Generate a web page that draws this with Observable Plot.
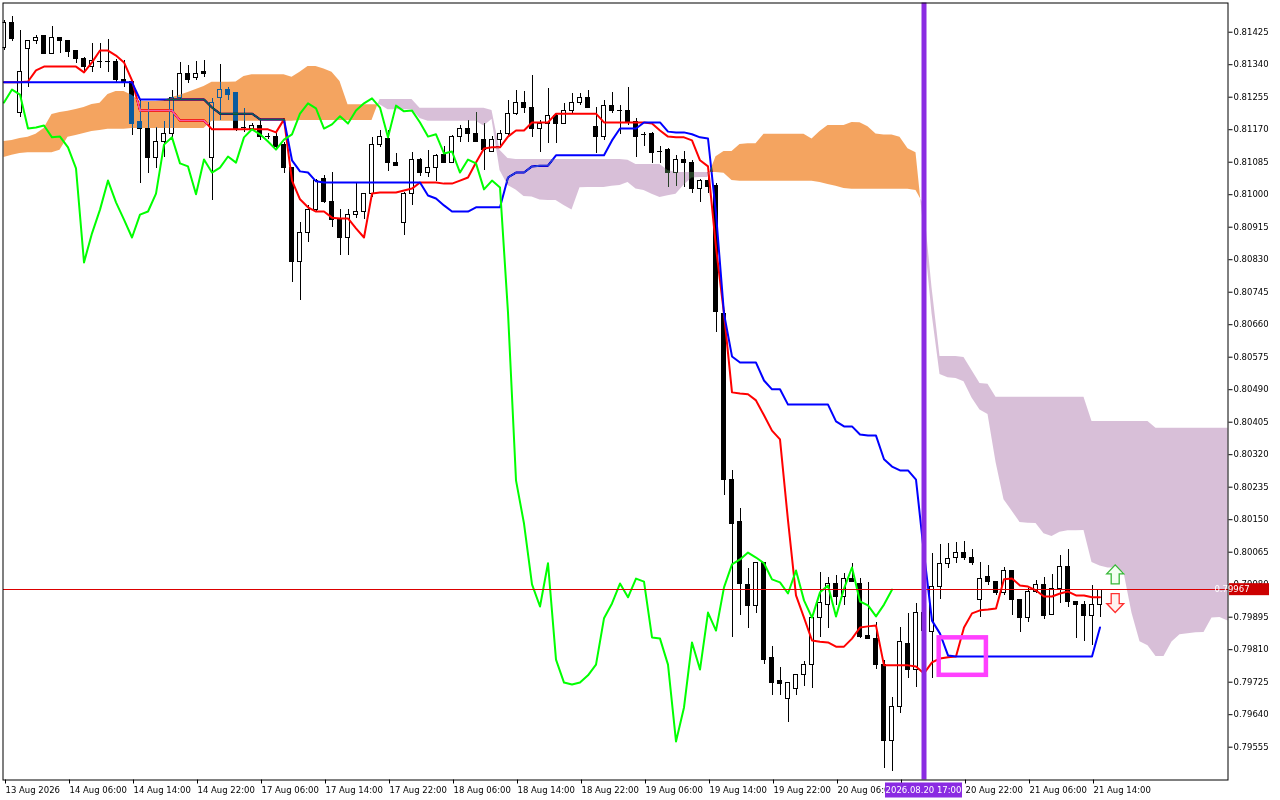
<!DOCTYPE html>
<html><head><meta charset="utf-8">
<script src="https://cdn.jsdelivr.net/npm/d3@7"></script>
<script src="https://cdn.jsdelivr.net/npm/@observablehq/plot@0.6"></script>
<style>html,body{margin:0;padding:0;background:#fff;}#chart svg{display:block;}</style>
</head><body><div id="chart"></div>
<script>
// Hourly bars, index 0 = 13 Aug 2026 22:00
const open = [
0.81385,0.81450,0.81215,0.81380,0.81403,0.81414,0.81369,0.81411,0.81403,0.81375,
0.81354,0.81333,0.81348,0.81348,0.81348,0.81299,0.81294,0.81189,0.81171,0.81095,
0.81139,0.81160,0.81252,0.81317,0.81304,0.81322,0.81095,0.81254,0.81275,0.81265,
0.81176,0.81173,0.81181,0.81152,0.81152,0.81131,0.81071,0.80823,0.80899,0.80959,
0.81040,0.80980,0.80935,0.80888,0.80948,0.80956,0.81003,0.81131,0.81147,0.81082,
0.80925,0.81001,0.81092,0.81058,0.81071,0.81103,0.81084,0.81152,0.81173,0.81160,
0.81144,0.81113,0.81144,0.81158,0.81212,0.81239,0.81226,0.81173,0.81184,0.81205,
0.81186,0.81220,0.81239,0.81252,0.81176,0.81150,0.81233,0.81220,0.81220,0.81189,
0.81158,0.81158,0.81113,0.81116,0.81058,0.81092,0.81084,0.81014,0.81037,0.81022,
0.80689,0.80253,0.80143,0.79978,0.79923,0.80036,0.79787,0.79727,0.79682,0.79706,
0.79743,0.79771,0.79894,0.79928,0.79983,0.79947,0.79996,0.79983,0.79845,0.79839,
0.79771,0.79570,0.79659,0.79824,0.79756,0.79907,0.79855,0.79973,0.80033,0.80049,
0.80064,0.80051,0.79941,0.79999,0.79988,0.79957,0.80017,0.79939,0.79894,0.79960,
0.79978,0.79900,0.79970,0.80025,0.79936,0.79926,0.79897,0.79928];
const high = [
0.81456,0.81466,0.81430,0.81403,0.81416,0.81416,0.81440,0.81411,0.81403,0.81377,
0.81359,0.81396,0.81396,0.81406,0.81354,0.81351,0.81299,0.81246,0.81241,0.81176,
0.81192,0.81273,0.81346,0.81338,0.81348,0.81351,0.81252,0.81341,0.81280,0.81265,
0.81226,0.81186,0.81194,0.81160,0.81160,0.81137,0.81071,0.80927,0.80972,0.81040,
0.81050,0.81058,0.80961,0.80961,0.81029,0.81003,0.81150,0.81168,0.81168,0.81108,
0.81006,0.81110,0.81095,0.81116,0.81105,0.81126,0.81155,0.81181,0.81194,0.81215,
0.81186,0.81152,0.81168,0.81246,0.81273,0.81270,0.81312,0.81194,0.81278,0.81212,
0.81239,0.81265,0.81265,0.81273,0.81228,0.81246,0.81267,0.81233,0.81280,0.81199,
0.81163,0.81163,0.81126,0.81121,0.81103,0.81113,0.81090,0.81040,0.81050,0.81029,
0.80697,0.80279,0.80179,0.80022,0.80038,0.80036,0.79818,0.79763,0.79724,0.79743,
0.79779,0.79892,0.80012,0.79999,0.80004,0.80009,0.80036,0.79996,0.79986,0.79881,
0.79782,0.79685,0.79868,0.79905,0.79931,0.79978,0.80062,0.80085,0.80088,0.80090,
0.80093,0.80072,0.80038,0.80030,0.79988,0.80025,0.80017,0.79939,0.79970,0.79991,
0.79999,0.80007,0.80056,0.80072,0.79936,0.79936,0.79978,0.79967];
const low = [
0.81377,0.81401,0.81202,0.81280,0.81393,0.81367,0.81367,0.81369,0.81359,0.81343,
0.81317,0.81320,0.81330,0.81320,0.81294,0.81280,0.81155,0.81029,0.81056,0.81069,
0.81097,0.81150,0.81246,0.81291,0.81299,0.81307,0.80985,0.81194,0.81246,0.81165,
0.81163,0.81168,0.81142,0.81144,0.81116,0.81056,0.80770,0.80723,0.80875,0.80954,
0.80977,0.80914,0.80841,0.80841,0.80938,0.80935,0.80993,0.81124,0.81061,0.81074,
0.80893,0.80972,0.81048,0.81045,0.81035,0.81082,0.81084,0.81137,0.81137,0.81139,
0.81063,0.81110,0.81124,0.81155,0.81207,0.81212,0.81150,0.81110,0.81134,0.81134,
0.81184,0.81212,0.81233,0.81226,0.81108,0.81142,0.81212,0.81158,0.81181,0.81097,
0.81126,0.81082,0.81082,0.81019,0.81022,0.81019,0.81003,0.80980,0.81003,0.80640,
0.80213,0.79842,0.79900,0.79866,0.79905,0.79771,0.79690,0.79690,0.79620,0.79690,
0.79714,0.79709,0.79842,0.79866,0.79926,0.79926,0.79986,0.79839,0.79839,0.79758,
0.79499,0.79492,0.79643,0.79735,0.79711,0.79834,0.79735,0.79941,0.80022,0.80036,
0.80043,0.80030,0.79894,0.79978,0.79952,0.79952,0.79900,0.79855,0.79881,0.79957,
0.79889,0.79900,0.79931,0.79920,0.79839,0.79831,0.79821,0.79894];
const close = [
0.81448,0.81406,0.81322,0.81403,0.81411,0.81369,0.81411,0.81401,0.81372,0.81354,
0.81333,0.81351,0.81348,0.81348,0.81299,0.81296,0.81186,0.81171,0.81095,0.81139,
0.81160,0.81252,0.81317,0.81301,0.81317,0.81317,0.81241,0.81275,0.81262,0.81173,
0.81176,0.81181,0.81150,0.81152,0.81124,0.81069,0.80823,0.80899,0.80961,0.81037,
0.80980,0.80935,0.80888,0.80948,0.80956,0.81003,0.81131,0.81150,0.81082,0.81074,
0.81001,0.81092,0.81058,0.81071,0.81100,0.81084,0.81150,0.81171,0.81158,0.81139,
0.81118,0.81144,0.81158,0.81212,0.81239,0.81226,0.81173,0.81184,0.81205,0.81186,
0.81220,0.81239,0.81252,0.81228,0.81150,0.81233,0.81218,0.81220,0.81189,0.81152,
0.81158,0.81108,0.81113,0.81058,0.81092,0.81082,0.81014,0.81037,0.81019,0.80692,
0.80253,0.80140,0.79981,0.79923,0.80036,0.79784,0.79724,0.79719,0.79724,0.79743,
0.79771,0.79892,0.79931,0.79983,0.79947,0.79996,0.79988,0.79842,0.79839,0.79771,
0.79570,0.79659,0.79829,0.79758,0.79907,0.79860,0.79973,0.80033,0.80046,0.80064,
0.80051,0.80036,0.79994,0.79986,0.79957,0.80017,0.79939,0.79894,0.79960,0.79978,
0.79897,0.79970,0.80025,0.79936,0.79926,0.79897,0.79928,0.79967];

// Ichimoku lines (per bar)
const tenkan = [
0.81294,0.81294,0.81294,0.81296,0.81325,0.81335,0.81335,0.81335,0.81335,0.81335,
0.81320,0.81346,0.81377,0.81377,0.81364,0.81346,0.81299,0.81220,0.81220,0.81220,
0.81220,0.81220,0.81194,0.81194,0.81194,0.81194,0.81171,0.81171,0.81171,0.81171,
0.81171,0.81171,0.81171,0.81171,0.81163,0.81197,0.81037,0.80988,0.80967,0.80956,
0.80956,0.80940,0.80938,0.80938,0.80912,0.80888,0.81003,0.81006,0.81006,0.81006,
0.81011,0.81016,0.81032,0.81032,0.81032,0.81029,0.81029,0.81037,0.81045,0.81084,
0.81121,0.81124,0.81124,0.81152,0.81168,0.81168,0.81189,0.81189,0.81189,0.81212,
0.81212,0.81212,0.81212,0.81212,0.81212,0.81189,0.81189,0.81189,0.81189,0.81189,
0.81189,0.81186,0.81168,0.81152,0.81150,0.81150,0.81142,0.81090,0.81074,0.80862,
0.80689,0.80483,0.80480,0.80478,0.80462,0.80423,0.80383,0.80360,0.80148,0.79952,
0.79894,0.79834,0.79831,0.79829,0.79818,0.79818,0.79839,0.79868,0.79871,0.79873,
0.79769,0.79769,0.79769,0.79769,0.79766,0.79748,0.79777,0.79787,0.79790,0.79792,
0.79868,0.79905,0.79913,0.79915,0.79918,0.79994,0.79996,0.79978,0.79975,0.79965,
0.79949,0.79949,0.79957,0.79962,0.79952,0.79952,0.79947,0.79947];
const kijun = [
0.81294,0.81294,0.81294,0.81294,0.81294,0.81294,0.81294,0.81294,0.81294,0.81294,
0.81294,0.81294,0.81294,0.81294,0.81294,0.81294,0.81294,0.81249,0.81249,0.81249,
0.81249,0.81249,0.81249,0.81249,0.81249,0.81249,0.81228,0.81212,0.81212,0.81212,
0.81212,0.81212,0.81197,0.81197,0.81197,0.81197,0.81090,0.81061,0.81058,0.81035,
0.81032,0.81032,0.81032,0.81032,0.81032,0.81032,0.81032,0.81032,0.81032,0.81032,
0.81032,0.81032,0.81032,0.80998,0.80990,0.80972,0.80956,0.80956,0.80956,0.80967,
0.80967,0.80967,0.80967,0.81045,0.81058,0.81058,0.81074,0.81076,0.81076,0.81103,
0.81103,0.81103,0.81103,0.81103,0.81103,0.81103,0.81142,0.81173,0.81173,0.81173,
0.81189,0.81189,0.81189,0.81165,0.81163,0.81163,0.81158,0.81150,0.81147,0.80951,
0.80689,0.80577,0.80561,0.80561,0.80561,0.80514,0.80491,0.80491,0.80451,0.80451,
0.80451,0.80451,0.80451,0.80451,0.80407,0.80394,0.80394,0.80373,0.80370,0.80370,
0.80308,0.80289,0.80279,0.80279,0.80255,0.80062,0.79886,0.79852,0.79795,0.79792,
0.79792,0.79792,0.79792,0.79792,0.79792,0.79792,0.79792,0.79792,0.79792,0.79792,
0.79792,0.79792,0.79792,0.79792,0.79792,0.79792,0.79792,0.79868];
// Chikou span, plotted from bar 0
const chikou = [
0.81241,0.81275,0.81262,0.81173,0.81176,0.81181,0.81150,0.81152,0.81124,0.81069,
0.80823,0.80899,0.80961,0.81037,0.80980,0.80935,0.80888,0.80948,0.80956,0.81003,
0.81131,0.81150,0.81082,0.81074,0.81001,0.81092,0.81058,0.81071,0.81100,0.81084,
0.81150,0.81171,0.81158,0.81139,0.81118,0.81144,0.81158,0.81212,0.81239,0.81226,
0.81173,0.81184,0.81205,0.81186,0.81220,0.81239,0.81252,0.81228,0.81150,0.81233,
0.81218,0.81220,0.81189,0.81152,0.81158,0.81108,0.81113,0.81058,0.81092,0.81082,
0.81014,0.81037,0.81019,0.80692,0.80253,0.80140,0.79981,0.79923,0.80036,0.79784,
0.79724,0.79719,0.79724,0.79743,0.79771,0.79892,0.79931,0.79983,0.79947,0.79996,
0.79988,0.79842,0.79839,0.79771,0.79570,0.79659,0.79829,0.79758,0.79907,0.79860,
0.79973,0.80033,0.80046,0.80064,0.80051,0.80036,0.79994,0.79986,0.79957,0.80017,
0.79939,0.79894,0.79960,0.79978,0.79897,0.79970,0.80025,0.79936,0.79926,0.79897,
0.79928,0.79967];
// Senkou spans, plotted from bar 0 to bar 153 (26 bars ahead)
const spanA = [
0.81139,0.81142,0.81147,0.81150,0.81158,0.81173,0.81210,0.81215,0.81218,0.81223,
0.81228,0.81236,0.81239,0.81262,0.81270,0.81270,0.81260,0.81244,0.81244,0.81244,
0.81246,0.81254,0.81260,0.81267,0.81275,0.81283,0.81294,0.81294,0.81294,0.81295,
0.81309,0.81314,0.81314,0.81314,0.81314,0.81314,0.81307,0.81320,0.81335,0.81335,
0.81329,0.81320,0.81296,0.81235,0.81235,0.81235,0.81235,0.81235,0.81222,0.81222,
0.81222,0.81222,0.81199,0.81192,0.81192,0.81192,0.81192,0.81192,0.81192,0.81192,
0.81180,0.81197,0.81063,0.81024,0.81012,0.80995,0.80994,0.80986,0.80985,0.80985,
0.80972,0.80960,0.81018,0.81019,0.81019,0.81019,0.81022,0.81024,0.81032,0.81015,
0.81011,0.81001,0.80993,0.80997,0.81001,0.81025,0.81044,0.81045,0.81045,0.81099,
0.81113,0.81113,0.81131,0.81133,0.81133,0.81158,0.81158,0.81158,0.81158,0.81158,
0.81158,0.81146,0.81165,0.81181,0.81181,0.81181,0.81189,0.81188,0.81178,0.81159,
0.81156,0.81156,0.81150,0.81120,0.81110,0.80906,0.80689,0.80530,0.80521,0.80519,
0.80511,0.80468,0.80437,0.80425,0.80300,0.80202,0.80173,0.80143,0.80141,0.80140,
0.80113,0.80106,0.80117,0.80121,0.80121,0.80122,0.80038,0.80029,0.80024,0.80024,
0.80011,0.79905,0.79831,0.79820,0.79792,0.79792,0.79830,0.79849,0.79852,0.79854,
0.79855,0.79893,0.79894,0.79885];
const spanB = [
0.81097,0.81103,0.81108,0.81110,0.81110,0.81110,0.81110,0.81116,0.81150,0.81155,
0.81160,0.81165,0.81168,0.81171,0.81171,0.81171,0.81173,0.81173,0.81173,0.81173,
0.81173,0.81173,0.81173,0.81173,0.81173,0.81173,0.81192,0.81192,0.81192,0.81192,
0.81192,0.81192,0.81192,0.81192,0.81192,0.81192,0.81192,0.81194,0.81194,0.81194,
0.81194,0.81194,0.81194,0.81194,0.81194,0.81194,0.81194,0.81249,0.81249,0.81249,
0.81249,0.81249,0.81226,0.81226,0.81226,0.81226,0.81226,0.81226,0.81226,0.81226,
0.81226,0.81220,0.81116,0.81095,0.81092,0.81092,0.81092,0.81092,0.81092,0.81092,
0.81092,0.81092,0.81092,0.81092,0.81092,0.81092,0.81092,0.81092,0.81090,0.81079,
0.81079,0.81079,0.81079,0.81063,0.81058,0.81058,0.81058,0.81058,0.81058,0.81058,
0.81056,0.81037,0.81035,0.81035,0.81035,0.81035,0.81035,0.81035,0.81035,0.81035,
0.81035,0.81035,0.81032,0.81027,0.81022,0.81016,0.81014,0.81014,0.81014,0.81014,
0.81014,0.81014,0.81014,0.81014,0.81011,0.80974,0.80757,0.80577,0.80577,0.80577,
0.80574,0.80540,0.80506,0.80504,0.80470,0.80470,0.80470,0.80470,0.80470,0.80470,
0.80470,0.80470,0.80470,0.80470,0.80470,0.80470,0.80407,0.80407,0.80407,0.80407,
0.80407,0.80407,0.80407,0.80407,0.80389,0.80389,0.80389,0.80389,0.80389,0.80389,
0.80389,0.80389,0.80389,0.80389];

const bid = 0.79967;
const priceTicks = [0.79555,0.79640,0.79725,0.79810,0.79895,0.79980,0.80065,0.80150,0.80235,0.80320,0.80405,0.80490,0.80575,0.80660,0.80745,0.80830,0.80915,0.81000,0.81085,0.81170,0.81255,0.81340,0.81425];
const timeBars = [0,8,16,24,32,40,48,56,64,72,80,88,96,104,112,120,128,136];
// the 20 Aug 14:00 label sits under the vertical-line time label and is not shown
const timeLabels = ["13 Aug 2026","14 Aug 06:00","14 Aug 14:00","14 Aug 22:00","17 Aug 06:00","17 Aug 14:00","17 Aug 22:00","18 Aug 06:00","18 Aug 14:00","18 Aug 22:00","19 Aug 06:00","19 Aug 14:00","19 Aug 22:00","20 Aug 06:00","","20 Aug 22:00","21 Aug 06:00","21 Aug 14:00"];
const vlineBar = 115;
const vlineLabel = "2026.08.20 17:00";
const boxes = [{b1: 116.9, b2: 122.8, p1: 0.79743, p2: 0.79841}];
const signals = [{bar: 138.9, price: 0.80007, dir: "up"}, {bar: 138.9, price: 0.79932, dir: "down"}];

const bars = open.map((o, i) => ({i, o, h: high[i], l: low[i], c: close[i]}));
const bull = bars.filter(d => d.c > d.o);
const bear = bars.filter(d => d.c < d.o);
const doji = bars.filter(d => d.c === d.o);

// split cloud into same-sign segments (crossings found between bars)
const cloud = [];
let seg = 0;
for (let i = 0; i < spanA.length; i++) {
  const up = spanA[i] >= spanB[i];
  if (i > 0) {
    const prevUp = spanA[i-1] >= spanB[i-1];
    if (up !== prevUp) {
      const d0 = spanA[i-1] - spanB[i-1], d1 = spanA[i] - spanB[i];
      const t = d0 / (d0 - d1);
      const yc = spanA[i-1] + t * (spanA[i] - spanA[i-1]);
      cloud.push({x: i - 1 + t, a: yc, b: yc, seg, up: prevUp});
      seg++;
      cloud.push({x: i - 1 + t, a: yc, b: yc, seg, up});
    }
  }
  cloud.push({x: i, a: spanA[i], b: spanB[i], seg, up});
}

const arrowUp = {draw(ctx) {
  ctx.moveTo(0, -9.5); ctx.lineTo(8.5, -0.5); ctx.lineTo(4, -0.5); ctx.lineTo(4, 9.5);
  ctx.lineTo(-4, 9.5); ctx.lineTo(-4, -0.5); ctx.lineTo(-8.5, -0.5); ctx.closePath();
}};
const arrowDown = {draw(ctx) {
  ctx.moveTo(0, 9.5); ctx.lineTo(8.5, 0.5); ctx.lineTo(4, 0.5); ctx.lineTo(4, -9.5);
  ctx.lineTo(-4, -9.5); ctx.lineTo(-4, 0.5); ctx.lineTo(-8.5, 0.5); ctx.closePath();
}};

const chart = Plot.plot({
  width: 1280, height: 800,
  marginLeft: 2.5, marginRight: 52.5, marginTop: 2.5, marginBottom: 20.5,
  style: {fontFamily: "'DejaVu Sans', sans-serif", fontSize: "8.5px", background: "white", color: "black", overflow: "visible"},
  x: {domain: [-0.125, 153]},
  y: {domain: [0.794692, 0.815014]},
  marks: [
    Plot.frame({fill: "white"}),
    Plot.ruleX(bars, {x: "i", y1: "l", y2: "h", stroke: "black", strokeWidth: 1, shapeRendering: "crispEdges", clip: true}),
    Plot.rect(bull, {x1: d => d.i - 0.25, x2: d => d.i + 0.25, y1: "o", y2: "c", fill: "white", stroke: "black", strokeWidth: 1, shapeRendering: "crispEdges", clip: true}),
    Plot.rect(bear, {x1: d => d.i - 0.25, x2: d => d.i + 0.25, y1: "o", y2: "c", fill: "black", stroke: "black", strokeWidth: 1, shapeRendering: "crispEdges", clip: true}),
    Plot.ruleY(doji, {y: "o", x1: d => d.i - 0.3125, x2: d => d.i + 0.3125, stroke: "black", strokeWidth: 1, shapeRendering: "crispEdges", clip: true}),
    Plot.lineY(tenkan, {stroke: "#ff0000", strokeWidth: 2}),
    Plot.lineY(kijun, {stroke: "#0000ff", strokeWidth: 2}),
    Plot.areaY(cloud.filter(d => d.up), {x: "x", y1: "a", y2: "b", z: "seg", fill: "#0b5b9f", mixBlendMode: "difference"}),
    Plot.areaY(cloud.filter(d => !d.up), {x: "x", y1: "a", y2: "b", z: "seg", fill: "#274027", mixBlendMode: "difference"}),
    Plot.lineY(chikou, {stroke: "#00ff00", strokeWidth: 2}),
    Plot.ruleY([bid], {stroke: "#dc0000", strokeWidth: 1, shapeRendering: "crispEdges"}),
    Plot.ruleX([vlineBar], {stroke: "#8a2be2", strokeWidth: 5}),
    Plot.rect(boxes, {x1: "b1", x2: "b2", y1: "p1", y2: "p2", fill: "none", stroke: "#ff40ff", strokeWidth: 4.5}),
    Plot.dot(signals.filter(d => d.dir === "up"), {x: "bar", y: "price", symbol: arrowUp, r: 5, fill: "#f2fff0", stroke: "#38b838", strokeWidth: 1.3}),
    Plot.dot(signals.filter(d => d.dir === "down"), {x: "bar", y: "price", symbol: arrowDown, r: 5, fill: "#fff2f0", stroke: "#ff3030", strokeWidth: 1.3}),
    Plot.frame({stroke: "black", strokeWidth: 1}),
    Plot.axisY({anchor: "right", ticks: priceTicks, tickFormat: d => d.toFixed(5), tickSize: 4, tickPadding: 1.5, stroke: "black", fill: "black"}),
    Plot.axisX({anchor: "bottom", ticks: timeBars, tickFormat: d => timeLabels[timeBars.indexOf(d)], tickSize: 4, tickPadding: 2.5, textAnchor: "start", dx: 1.5, stroke: "black", fill: "black"})
  ]
});
document.getElementById("chart").append(chart);

const sx = chart.scale("x"), sy = chart.scale("y");
const svg = d3.select(chart);
// current price label on the price axis
const yb = sy.apply(bid);
svg.append("rect").attr("x", 1229).attr("y", yb - 6).attr("width", 40).attr("height", 12).attr("fill", "#cc0000");
svg.append("text").attr("x", 1232).attr("y", yb).attr("dy", "0.34em").attr("fill", "white")
  .style("font-family", "'DejaVu Sans', sans-serif").style("font-size", "8.5px").text(bid.toFixed(5));
// vertical line time label on the time axis
const xv = sx.apply(vlineBar);
svg.append("rect").attr("x", xv - 38.5).attr("y", 782.5).attr("width", 77).attr("height", 15).attr("fill", "#8a2be2");
svg.append("text").attr("x", xv).attr("y", 790).attr("dy", "0.34em").attr("text-anchor", "middle").attr("fill", "white")
  .style("font-family", "'DejaVu Sans', sans-serif").style("font-size", "8.5px").text(vlineLabel);
</script>
</body></html>
